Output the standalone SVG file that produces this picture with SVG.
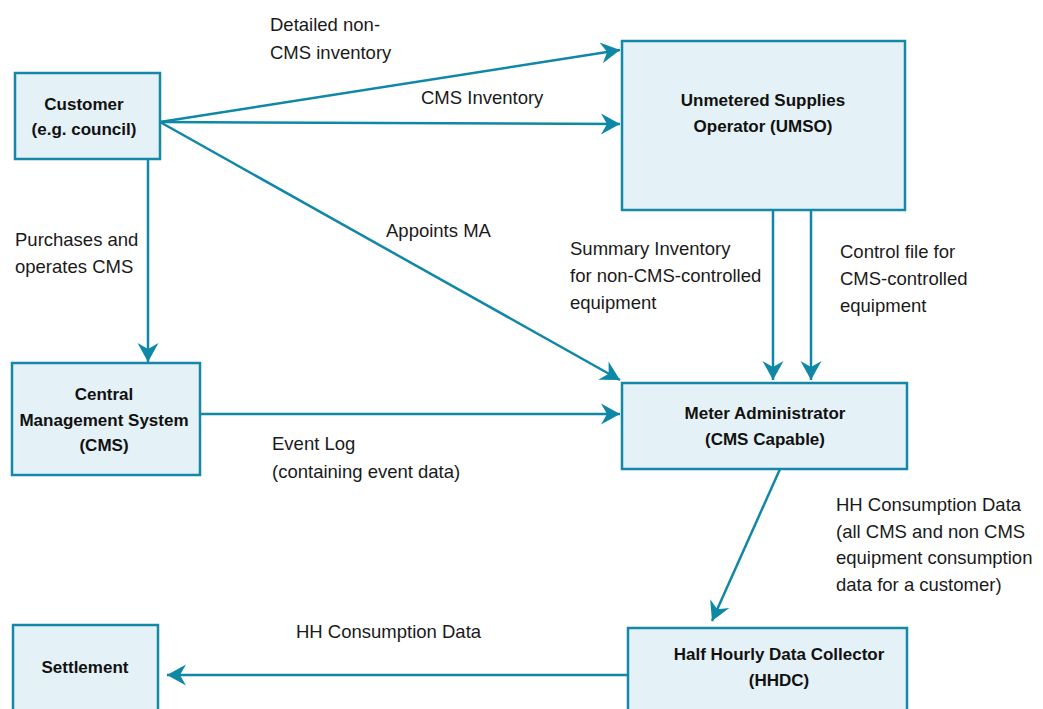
<svg xmlns="http://www.w3.org/2000/svg" width="1043" height="709" viewBox="0 0 1043 709">
<style>
.box{fill:#e4f1f6;stroke:#1588a7;stroke-width:2.5}
.t{font-family:"Liberation Sans",Arial,sans-serif;font-size:17px;font-weight:bold;fill:#111;text-anchor:middle}
.l{font-family:"Liberation Sans",Arial,sans-serif;font-size:18.5px;fill:#1a1a1a}
.c{fill:none;stroke:#0f87a6;stroke-width:2.5}
</style>
<defs>
<marker id="ah" markerUnits="userSpaceOnUse" markerWidth="24" markerHeight="24" viewBox="-20 -12 22 24" refX="0" refY="0" orient="auto">
<path d="M0,0 L-19,-10.5 L-13,0 L-19,10.5 Z" fill="#0f87a6"/>
</marker>
</defs>
<rect width="1043" height="709" fill="#fff"/>
<g id="connectors">
<line class="c" x1="160" y1="122" x2="620" y2="50" marker-end="url(#ah)"/>
<line class="c" x1="160" y1="122" x2="620" y2="124" marker-end="url(#ah)"/>
<line class="c" x1="160" y1="122" x2="620" y2="380" marker-end="url(#ah)"/>
<line class="c" x1="148" y1="159" x2="148" y2="362" marker-end="url(#ah)"/>
<line class="c" x1="200" y1="414" x2="620" y2="414" marker-end="url(#ah)"/>
<line class="c" x1="773" y1="210" x2="773" y2="380" marker-end="url(#ah)"/>
<line class="c" x1="811" y1="210" x2="811" y2="380" marker-end="url(#ah)"/>
<line class="c" x1="780" y1="469" x2="712" y2="621" marker-end="url(#ah)"/>
<line class="c" x1="628" y1="675" x2="167" y2="675" marker-end="url(#ah)"/>
</g>
<g id="labels">
<text class="l" x="270" y="31">Detailed non-</text>
<text class="l" x="270" y="59">CMS inventory</text>
<text class="l" x="421" y="104">CMS Inventory</text>
<text class="l" x="15" y="246">Purchases and</text>
<text class="l" x="15" y="273">operates CMS</text>
<text class="l" x="386" y="237">Appoints MA</text>
<text class="l" x="570" y="255">Summary Inventory</text>
<text class="l" x="570" y="282">for non-CMS-controlled</text>
<text class="l" x="570" y="309">equipment</text>
<text class="l" x="840" y="258">Control file for</text>
<text class="l" x="840" y="285">CMS-controlled</text>
<text class="l" x="840" y="312">equipment</text>
<text class="l" x="272" y="450">Event Log</text>
<text class="l" x="272" y="478">(containing event data)</text>
<text class="l" x="836" y="511">HH Consumption Data</text>
<text class="l" x="836" y="538">(all CMS and non CMS</text>
<text class="l" x="836" y="564">equipment consumption</text>
<text class="l" x="836" y="591">data for a customer)</text>
<text class="l" x="296" y="638">HH Consumption Data</text>
</g>
<g id="customer">
<rect class="box" x="15" y="73" width="145" height="86"/>
<text class="t" x="84" y="110">Customer</text>
<text class="t" x="84" y="135">(e.g. council)</text>
</g>
<g id="umso">
<rect class="box" x="622" y="41" width="283" height="169"/>
<text class="t" x="763" y="106">Unmetered Supplies</text>
<text class="t" x="763" y="132">Operator (UMSO)</text>
</g>
<g id="cms">
<rect class="box" x="12" y="363" width="188" height="112"/>
<text class="t" x="104" y="400">Central</text>
<text class="t" x="104" y="426">Management System</text>
<text class="t" x="104" y="451">(CMS)</text>
</g>
<g id="ma">
<rect class="box" x="622" y="383" width="285" height="86"/>
<text class="t" x="765" y="419">Meter Administrator</text>
<text class="t" x="765" y="445">(CMS Capable)</text>
</g>
<g id="hhdc">
<rect class="box" x="628" y="628" width="279" height="95"/>
<text class="t" x="779" y="660">Half Hourly Data Collector</text>
<text class="t" x="779" y="686">(HHDC)</text>
</g>
<g id="settlement">
<rect class="box" x="13" y="625" width="145" height="98"/>
<text class="t" x="85" y="673">Settlement</text>
</g>
</svg>
